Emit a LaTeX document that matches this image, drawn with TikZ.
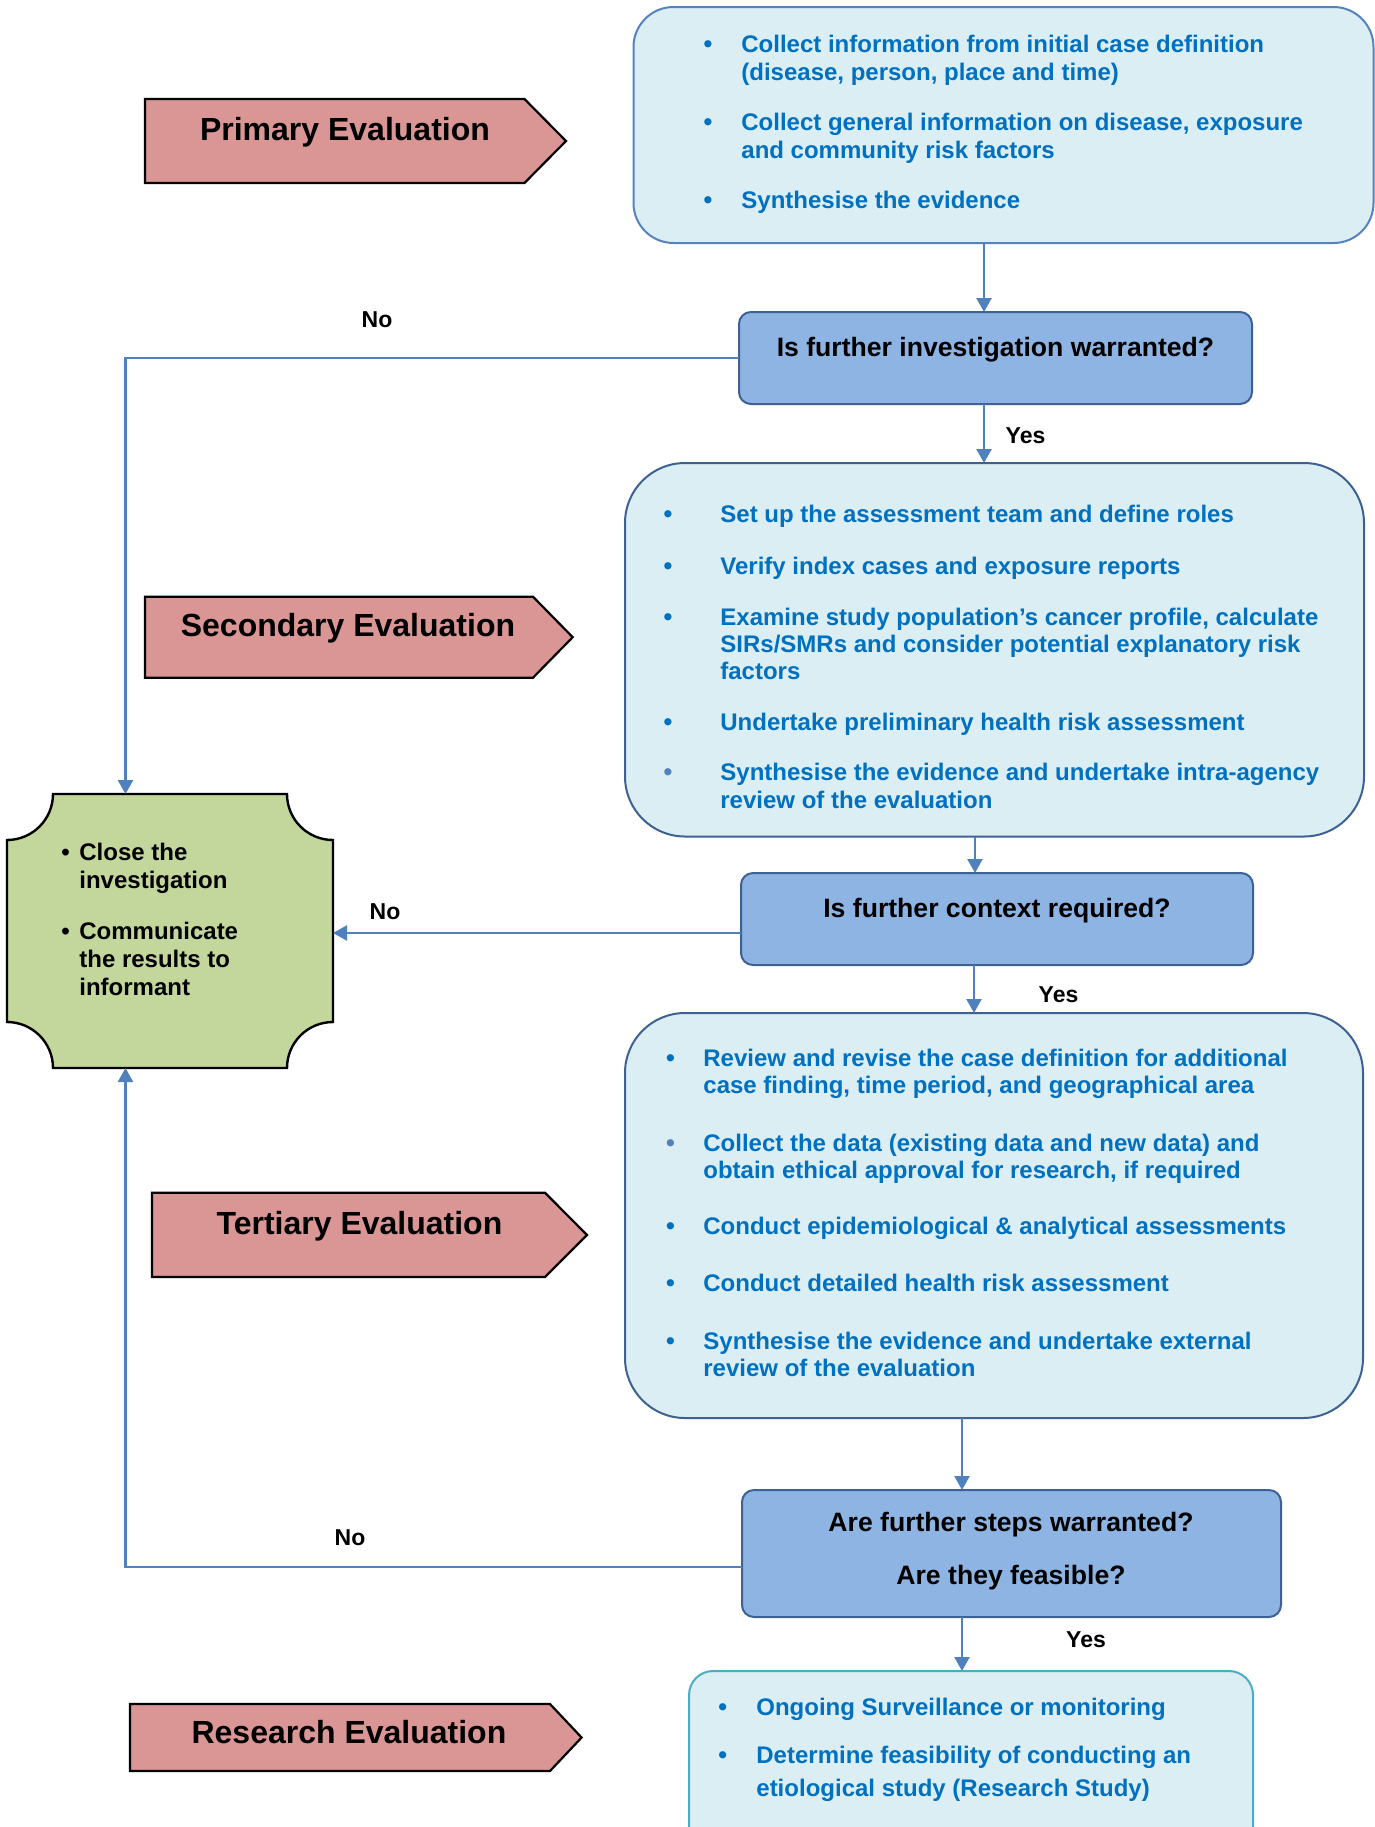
\documentclass[tikz,border=0pt]{standalone}
\usepackage{fontspec}
\setmainfont{Liberation Sans}
\usetikzlibrary{arrows.meta}
\definecolor{boxfill}{HTML}{DBEEF4}
\definecolor{boxline}{HTML}{3E6193}
\definecolor{primline}{HTML}{5483C0}
\definecolor{decfill}{HTML}{8EB4E3}
\definecolor{conncol}{HTML}{4F81BD}
\definecolor{tblue}{HTML}{0070C0}
\definecolor{lightdot}{HTML}{4F81BD}
\definecolor{evalfill}{HTML}{D99694}
\definecolor{closefill}{HTML}{C3D69B}
\definecolor{resline}{HTML}{4BACC6}
\tikzset{
  infobox/.style={rectangle, draw=boxline, fill=boxfill, line width=1pt, inner sep=0pt, outer sep=0pt},
  decbox/.style={rectangle, rounded corners=6pt, draw=boxline, fill=decfill, line width=1pt, inner sep=0pt, outer sep=0pt},
  connector/.style={draw=conncol, line width=1.2pt, -{Triangle[length=7pt,width=7.5pt]}},
  evalshape/.style={draw=black, fill=evalfill, line width=1.1pt, line join=miter},
  evaltext/.style={anchor=base, inner sep=0pt, font=\fontsize{16}{19}\selectfont\bfseries},
  dectext/.style={anchor=base, inner sep=0pt, font=\fontsize{13.3}{16}\selectfont\bfseries},
  lbl/.style={anchor=base, inner sep=0pt, font=\fontsize{11.5}{14}\selectfont\bfseries},
  btxt/.style={anchor=base west, inner sep=0pt, text=tblue, font=\fontsize{12}{14}\selectfont\bfseries},
  bdot/.style={anchor=base, inner sep=0pt, text=tblue, font=\fontsize{12.5}{14}\selectfont\bfseries},
  gtxt/.style={anchor=base west, inner sep=0pt, text=black, font=\fontsize{12}{14}\selectfont\bfseries},
  gdot/.style={anchor=base, inner sep=0pt, text=black, font=\fontsize{12}{14}\selectfont\bfseries},
}
\begin{document}
\begin{tikzpicture}[x=0.5pt,y=-0.5pt]
\useasboundingbox (0,0) rectangle (1375,1827);
\clip (0,0) rectangle (1375,1827);

% ---------- evaluation arrows ----------
\draw[evalshape] (145,99) -- (524.5,99) -- (566,141) -- (524.5,183) -- (145,183) -- cycle;
\node[evaltext] (evp) at (345,140) {Primary Evaluation};
\draw[evalshape] (145,596.7) -- (533,596.7) -- (572.7,637.2) -- (533,677.7) -- (145,677.7) -- cycle;
\node[evaltext] (evs) at (348,636.7) {Secondary Evaluation};
\draw[evalshape] (152,1192.7) -- (545,1192.7) -- (587,1235) -- (545,1277) -- (152,1277) -- cycle;
\node[evaltext] (evt) at (359.5,1234) {Tertiary Evaluation};
\draw[evalshape] (130,1704) -- (550,1704) -- (581.6,1737.5) -- (550,1771) -- (130,1771) -- cycle;
\node[evaltext] (evr) at (349,1743) {Research Evaluation};

% ---------- boxes ----------
\node[infobox, draw=primline, rounded corners=20pt, minimum width=370pt, minimum height=118pt] (prim) at (1003.5,125) {};
\node[decbox, minimum width=256.5pt, minimum height=46pt] (d1) at (995.5,358) {};
\node[infobox, rounded corners=30pt, minimum width=369.5pt, minimum height=186.75pt] (sec) at (994.5,649.75) {};
\node[decbox, minimum width=256pt, minimum height=46pt] (d2) at (997,919) {};
\node[infobox, rounded corners=30pt, minimum width=369pt, minimum height=202.5pt] (ter) at (994,1215.5) {};
\node[decbox, minimum width=269.5pt, minimum height=63.5pt] (d3) at (1011.5,1553.5) {};
\node[infobox, draw=resline, rounded corners=12pt, minimum width=282pt, minimum height=100pt] (res) at (971,1771) {};

% close box (plaque shape)
\node[rectangle, inner sep=0pt, outer sep=0pt, minimum width=163pt, minimum height=137pt] (close) at (170,931) {};
\draw[fill=closefill, draw=black, line width=1.2pt]
  (53,794) -- (287,794) arc[start angle=180, end angle=90, radius=46]
  -- (333,1022) arc[start angle=270, end angle=180, radius=46]
  -- (53,1068) arc[start angle=0, end angle=-90, radius=46]
  -- (7,840) arc[start angle=90, end angle=0, radius=46] -- cycle;

% ---------- texts ----------
\foreach \y/\t [count=\i] in {52.7/{Collect information from initial case definition},
  80/{(disease, person, place and time)},
  130/{Collect general information on disease, exposure},
  158/{and community risk factors},
  208/{Synthesise the evidence}}
  \node[btxt] (pt\i) at (741,\y) {\t};
\foreach \y [count=\i] in {52.7,130,208}
  \node[bdot] (pb\i) at (708,\y) {•};

\node[dectext] (d1t) at (995.5,356) {Is further investigation warranted?};

\foreach \y/\t [count=\i] in {522.7/{Set up the assessment team and define roles},
  574/{Verify index cases and exposure reports},
  625/{Examine study population’s cancer profile, calculate},
  652/{SIRs/SMRs and consider potential explanatory risk},
  679/{factors},
  730/{Undertake preliminary health risk assessment},
  780/{Synthesise the evidence and undertake intra-agency},
  808/{review of the evaluation}}
  \node[btxt] (st\i) at (720,\y) {\t};
\foreach \y [count=\i] in {522.7,574,625,730}
  \node[bdot] (sb\i) at (668,\y) {•};
\node[bdot, text=lightdot] (sb5) at (668,780) {•};

\node[dectext] (d2t) at (997,917) {Is further context required?};

\foreach \y/\t [count=\i] in {1066/{Review and revise the case definition for additional},
  1093/{case finding, time period, and geographical area},
  1151/{Collect the data (existing data and new data) and},
  1178/{obtain ethical approval for research, if required},
  1234/{Conduct epidemiological \& analytical assessments},
  1291/{Conduct detailed health risk assessment},
  1349/{Synthesise the evidence and undertake external},
  1376/{review of the evaluation}}
  \node[btxt] (tt\i) at (703,\y) {\t};
\foreach \y [count=\i] in {1066,1234,1291,1349}
  \node[bdot] (tb\i) at (670.5,\y) {•};
\node[bdot, text=lightdot] (tb5) at (670.5,1151) {•};

\node[dectext] (d3t1) at (1011,1531) {Are further steps warranted?};
\node[dectext] (d3t2) at (1011,1584) {Are they feasible?};

\foreach \y/\t [count=\i] in {1715/{Ongoing Surveillance or monitoring},
  1763/{Determine feasibility of conducting an},
  1796/{etiological study (Research Study)}}
  \node[btxt] (rt\i) at (756,\y) {\t};
\foreach \y [count=\i] in {1715,1763}
  \node[bdot] (rb\i) at (722.7,\y) {•};

\foreach \y/\t [count=\i] in {860/{Close the}, 888/{investigation}, 939/{Communicate},
  967/{the results to}, 995/{informant}}
  \node[gtxt] (gt\i) at (79,\y) {\t};
\foreach \y [count=\i] in {860,939}
  \node[gdot] (gb\i) at (65.6,\y) {•};

% ---------- labels ----------
\node[lbl] (no1) at (377,327) {No};
\node[lbl] (yes1) at (1025.5,443) {Yes};
\node[lbl] (no2) at (385,919) {No};
\node[lbl] (yes2) at (1058.5,1002) {Yes};
\node[lbl] (no3) at (350,1545) {No};
\node[lbl] (yes3) at (1086,1647) {Yes};

% ---------- connectors ----------
\coordinate (ax1) at (984,0);
\coordinate (ax2) at (975,0);
\coordinate (ax3) at (974,0);
\coordinate (ax4) at (962,0);
\coordinate (vx) at (125.5,0);
\coordinate (hy2) at (0,933);
\coordinate (hy3) at (0,1567);

\draw[connector] (prim.south -| ax1) -- (d1.north -| ax1);
\draw[connector] (d1.south -| ax1) -- (sec.north -| ax1);
\draw[connector] (sec.south -| ax2) -- (d2.north -| ax2);
\draw[connector] (d2.south -| ax3) -- (ter.north -| ax3);
\draw[connector] (ter.south -| ax4) -- (d3.north -| ax4);
\draw[connector] (d3.south -| ax4) -- (res.north -| ax4);

\draw[connector] (d1.west) -| (vx |- close.north);
\draw[connector] (d2.west |- hy2) -- (close.east |- hy2);
\draw[connector] (d3.west |- hy3) -| (vx |- close.south);
\end{tikzpicture}
\end{document}
